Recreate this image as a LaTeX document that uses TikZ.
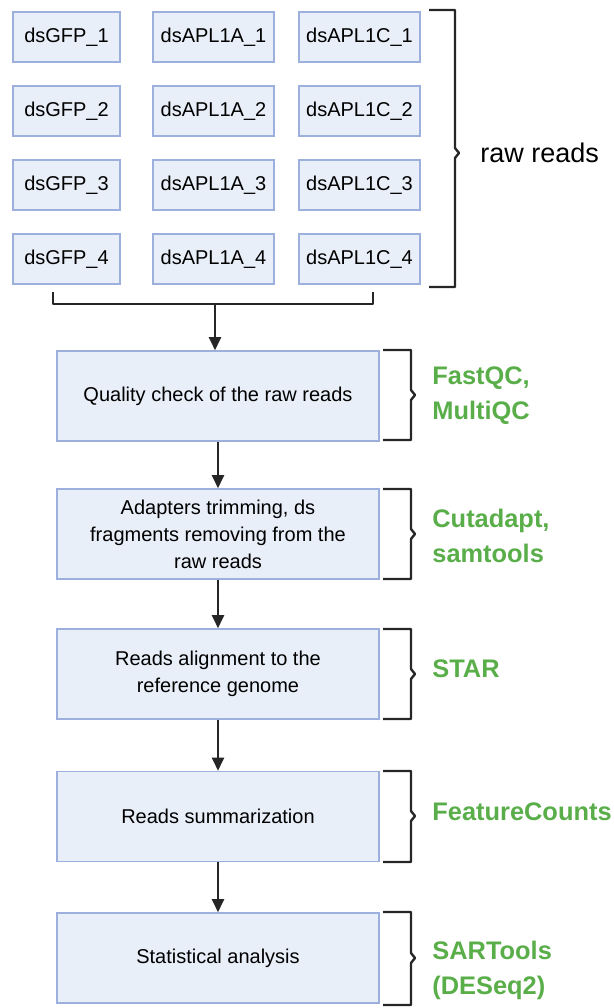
\documentclass[tikz,border=0pt]{standalone}
\usepackage{fontspec}
\setmainfont{Liberation Sans}
\usepackage{tikz}
\usetikzlibrary{positioning,arrows.meta,calc}
\definecolor{sample}{HTML}{E9EFF9}
\definecolor{sampleline}{HTML}{9DB0DD}
\definecolor{tool}{HTML}{5AAE4A}

\begin{document}
\begin{tikzpicture}[x=0.5pt, y=-0.5pt,
        samplenode/.style={rectangle, draw=sampleline, fill=sample, line
        width=0.8pt, minimum width=53.5pt, minimum height=25pt, inner
        sep=0pt, font=\fontsize{10}{12}\selectfont},
        stepnode/.style={rectangle, draw=sampleline, fill=sample, line
        width=0.8pt, minimum width=161pt, minimum height=45pt, inner
        sep=0pt, align=center, font=\fontsize{10}{13.5}\selectfont},
        flowlink/.style={-{Triangle[length=6.5pt,width=6pt]}, line
        width=1.2pt, black!85},
        bracket/.style={line width=1.2pt, black!85, line join=round},
        toollabel/.style={anchor=west, inner sep=0pt, text=tool,
        align=left, font=\bfseries\fontsize{12.7}{17.5}\selectfont},
      ]
      \useasboundingbox (0,0) rectangle (614,1008);

      % Samples (top) - three columns, four replicates each
      \node[samplenode] (g1) at (66.5, 37) {dsGFP\_1};
      \node[samplenode] (g2) at (66.5, 111) {dsGFP\_2};
      \node[samplenode] (g3) at (66.5, 185) {dsGFP\_3};
      \node[samplenode] (g4) at (66.5, 259) {dsGFP\_4};
      \node[samplenode, minimum width=60.5pt] (a1) at (213.5, 37) {dsAPL1A\_1};
      \node[samplenode, minimum width=60.5pt] (a2) at (213.5, 111) {dsAPL1A\_2};
      \node[samplenode, minimum width=60.5pt] (a3) at (213.5, 185) {dsAPL1A\_3};
      \node[samplenode, minimum width=60.5pt] (a4) at (213.5, 259) {dsAPL1A\_4};
      \node[samplenode, minimum width=60.5pt] (c1) at (359.5, 37) {dsAPL1C\_1};
      \node[samplenode, minimum width=60.5pt] (c2) at (359.5, 111) {dsAPL1C\_2};
      \node[samplenode, minimum width=60.5pt] (c3) at (359.5, 185) {dsAPL1C\_3};
      \node[samplenode, minimum width=60.5pt] (c4) at (359.5, 259) {dsAPL1C\_4};
      \draw[bracket] (429, 10) -- (455, 10) -- (455, 148) -- (459, 153)
      -- (455, 158) -- (455, 287) -- (429, 287);
      \node[anchor=west, inner sep=0pt, font=\fontsize{13.5}{16}\selectfont]
      (raw) at (480, 153) {raw reads};

      % Pipeline steps
      \node[stepnode] (qc) at (218, 396) {Quality check of the raw reads};
      \node[stepnode] (trim) at (218, 534) {Adapters trimming, ds\\
      fragments removing from the\\ raw reads};
      \node[stepnode] (align) at (218, 674) {Reads alignment to the\\
      reference genome};
      \node[stepnode] (count) at (218, 816.5) {Reads summarization};
      \node[stepnode] (stats) at (218, 958) {Statistical analysis};

      % Samples join into the first step
      \coordinate (jl) at (53, 292);
      \coordinate (jr) at (373, 292);
      \coordinate (jm) at (215, 304);
      \draw[bracket] (jl) -- ++(0, 12) -| (jr);
      \draw[flowlink] (jm) -- (jm |- qc.north);

      % Step to step
      \draw[flowlink] (qc) -- (trim);
      \draw[flowlink] (trim) -- (align);
      \draw[flowlink] (align) -- (count);
      \draw[flowlink] (count) -- (stats);

      % Tool brackets
      \draw[bracket] (383, 350) -- (411, 350) -- (411, 390) -- (415, 395)
      -- (411, 400) -- (411, 440) -- (383, 440);
      \draw[bracket] (383, 489) -- (411, 489) -- (411, 529) -- (415, 534)
      -- (411, 539) -- (411, 579) -- (383, 579);
      \draw[bracket] (383, 629) -- (411, 629) -- (411, 669) -- (415, 674)
      -- (411, 679) -- (411, 719) -- (383, 719);
      \draw[bracket] (383, 771) -- (411, 771) -- (411, 811) -- (415, 816)
      -- (411, 821) -- (411, 862) -- (383, 862);
      \draw[bracket] (383, 912) -- (411, 912) -- (411, 953) -- (415, 958)
      -- (411, 963) -- (411, 1005) -- (383, 1005);

      % Tools
      \node[toollabel] (t1) at (432, 396) {FastQC,\\ MultiQC};
      \node[toollabel] (t2) at (432, 536) {Cutadapt,\\ samtools};
      \node[toollabel] (t3) at (432, 669) {STAR};
      \node[toollabel] (t4) at (432, 812) {FeatureCounts};
      \node[toollabel] (t5) at (432, 970) {SARTools\\ (DESeq2)};
    \end{tikzpicture}
\end{document}
